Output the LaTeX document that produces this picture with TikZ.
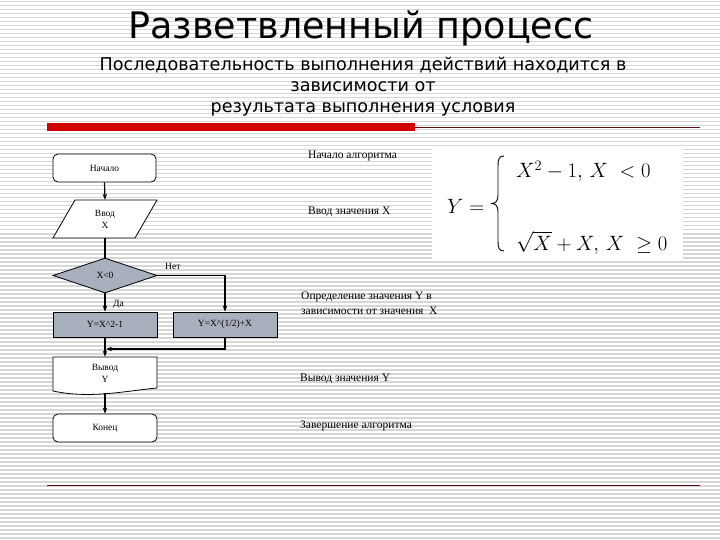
\documentclass[tikz,border=0pt]{standalone}
\usepackage{fontspec}
\setmainfont{Liberation Serif}
\newfontfamily\titlefont{DejaVu Sans}
\usetikzlibrary{shapes.geometric,arrows.meta}
\definecolor{boxgray}{HTML}{A8AFBD}
\definecolor{stripecol}{HTML}{D6D6D6}
\definecolor{barred}{HTML}{D00000}
\definecolor{linered}{HTML}{5A1010}
\begin{document}
\begin{tikzpicture}[x=1pt,y=-1pt,
  arr/.style={-{Stealth[length=6pt,width=4.5pt]},line width=1.2pt},
  conn/.style={line width=1.2pt},
  shapeline/.style={line width=0.8pt},
  fc/.style={font=\fontsize{9.5}{12}\selectfont, align=center, inner sep=0pt},
  note/.style={font=\fontsize{11.5}{15}\selectfont, anchor=west, align=left, inner sep=0pt},
  lbl/.style={font=\fontsize{9.5}{11}\selectfont, inner sep=0pt},
  fml/.style={anchor=base west, font=\fontsize{21}{24}\selectfont, inner sep=0pt}]
\useasboundingbox (0,0) rectangle (720,540);
\fill[white] (0,0) rectangle (720,540);
\foreach \k in {0,...,134} \fill[stripecol] (0,4*\k+1) rectangle (720,4*\k+2.5);
% title
\node[font=\titlefont\fontsize{36.5}{40}\selectfont, inner sep=0pt] (title) at (361,28) {Разветвленный процесс};
\node[font=\titlefont\fontsize{17.6}{21}\selectfont, align=center, inner sep=0pt] (sub) at (363,87) {Последовательность выполнения действий находится в\\зависимости от\\результата выполнения условия};
% bars
\fill[barred] (47,123) rectangle (415,131);
\draw[linered, line width=0.9pt] (415,127) -- (700,127);
\draw[linered, line width=1pt] (47,485) -- (700,485);
% formula box
\fill[white] (432,148) rectangle (683,260);
\node[fml] (fy) at (447,214) {$Y=$};
\draw[line width=0.9pt] (504,156) .. controls (499,156) and (498,159) .. (498,166) -- (498,195) .. controls (498,201) and (496,203) .. (492,203.5) .. controls (496,204) and (498,206) .. (498,212) -- (498,241) .. controls (498,248) and (499,251) .. (504,251);
\node[fml] (f1) at (516,178) {$X^2-1,\,X\;<0$};
\node[fml] (f2) at (516,250) {$\sqrt{X}+X,\,X\;\geq 0$};
% flowchart
\node[draw, shapeline, fill=white, rounded corners=5pt, minimum width=103pt, minimum height=28pt, fc] (start) at (104.5,168) {Начало};
\draw[shapeline, fill=white] (75,200) -- (157,200) -- (135,238) -- (53,238) -- cycle;
\node[fc, minimum width=82pt, minimum height=38pt] (input) at (105,219) {Ввод\\X};
\node[diamond, draw, shapeline, fill=boxgray, minimum width=104pt, minimum height=35pt, inner sep=0pt, aspect=3, fc] (dec) at (105,275.5) {X<0};
\node[draw, shapeline, fill=boxgray, minimum width=104pt, minimum height=25pt, fc] (box1) at (105,324.5) {Y=X\textasciicircum2-1};
\node[draw, shapeline, fill=boxgray, minimum width=104pt, minimum height=25pt, fc] (box2) at (225,324.5) {Y=X\textasciicircum(1/2)+X};
\draw[shapeline, fill=white] (53,357) -- (157,357) -- (157,388) .. controls (125,391) and (90,399) .. (53,391) -- cycle;
\node[fc, minimum width=104pt, minimum height=32pt] (out) at (105,373) {Вывод\\Y};
\node[draw, shapeline, fill=white, rounded corners=5pt, minimum width=104pt, minimum height=28pt, fc] (end) at (105,428) {Конец};
\coordinate (merge) at (106,349);
% connectors
\draw[arr] (start.south) -- (input.north);
\draw[conn] (input.south) -- (dec.north);
\draw[arr] (dec.south) -- (box1.north);
\draw[arr] (dec.east) -| (box2.north);
\draw[arr] (box1.south) -- (out.north);
\draw[arr] (box2.south) |- (merge);
\draw[arr] ([yshift=-4pt]out.south) -- (end.north);
\node[lbl, anchor=west] (no) at (165,266) {Нет};
\node[lbl, anchor=west] (yes) at (113,304) {Да};
% notes
\node[note] (n1) at (308,156) {Начало алгоритма};
\node[note] (n2) at (308,212) {Ввод значения X};
\node[note] (n3) at (301,303.5) {Определение значения Y в\\зависимости от значения \ X};
\node[note] (n4) at (300,379) {Вывод значения Y};
\node[note] (n5) at (300,426) {Завершение алгоритма};
\end{tikzpicture}
\end{document}
